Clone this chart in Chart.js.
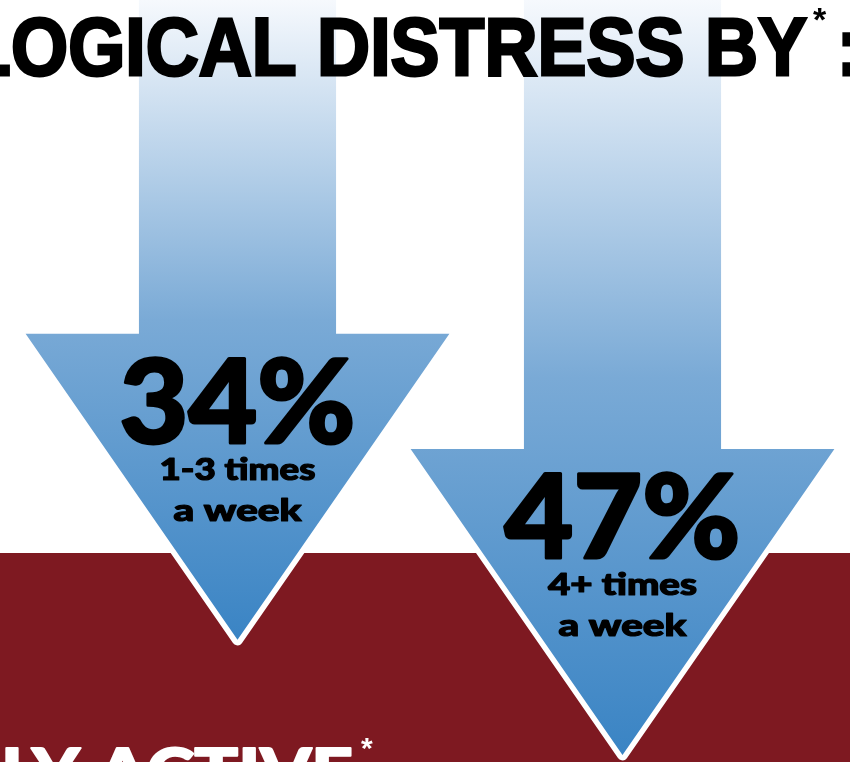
<!DOCTYPE html>
<html>
<head>
<meta charset="utf-8">
<script src="https://cdn.jsdelivr.net/npm/chart.js@4.4.0/dist/chart.umd.min.js"></script>
<style>
  html, body { margin: 0; padding: 0; background: #fff; overflow: hidden; }
  #wrap { width: 850px; height: 762px; position: relative; }
</style>
</head>
<body>
<div id="wrap"><canvas id="myChart"></canvas></div>
<script>
// data
const categories = ["1-3 times a week", "4+ times a week"];
const labelLines = [["1-3 times", "a week"], ["4+ times", "a week"]];
const values = [34, 47];
const valueLabels = ["34%", "47%"];
const titleText = "LOGICAL DISTRESS BY";
const footerText = "LLY ACTIVE";

const RED = "#7e1921";
const BAND_TOP = 553;

// draw text squeezed/stretched to a target width, with optional stroke to make it heavier
function fitText(ctx, txt, x, y, width, font, align, heavy) {
    ctx.font = font;
    const w = ctx.measureText(txt).width;
    const sx = width / w;
    ctx.save();
    ctx.translate(x, y);
    ctx.scale(sx, 1);
    ctx.textAlign = align || "center";
    ctx.fillText(txt, 0, 0);
    if (heavy) {
        ctx.strokeStyle = ctx.fillStyle;
        ctx.lineWidth = heavy;
        ctx.lineJoin = "round";
        ctx.strokeText(txt, 0, 0);
    }
    ctx.restore();
    return sx;
}

const arrowPlugin = {
    id: "arrows",
    beforeDraw(chart) {
        const ctx = chart.ctx;
        ctx.save();
        ctx.fillStyle = "#ffffff";
        ctx.fillRect(0, 0, chart.width, chart.height);
        ctx.fillStyle = RED;
        ctx.fillRect(0, BAND_TOP, chart.width, chart.height - BAND_TOP);
        ctx.restore();
    },
    afterDatasetsDraw(chart) {
        const ctx = chart.ctx;
        const top = chart.chartArea.top;
        chart.getDatasetMeta(0).data.forEach((bar, i) => {
            const tip = bar.y;
            const half = bar.width / 2;
            const headHalf = half * 2.15;
            const headTop = tip - 306;
            const cx = bar.x;

            const g = ctx.createLinearGradient(0, top, 0, tip);
            g.addColorStop(0, "#f6f9fd");
            g.addColorStop(0.5, "#7aaad6");
            g.addColorStop(1, "#3a84c4");

            ctx.save();
            // white outline on the head's slanted edges
            ctx.beginPath();
            ctx.moveTo(cx - headHalf, headTop);
            ctx.lineTo(cx, tip);
            ctx.lineTo(cx + headHalf, headTop);
            ctx.strokeStyle = "#ffffff";
            ctx.lineWidth = 11;
            ctx.lineJoin = "round";
            ctx.lineCap = "butt";
            ctx.stroke();

            ctx.beginPath();
            ctx.moveTo(cx - half, top);
            ctx.lineTo(cx + half, top);
            ctx.lineTo(cx + half, headTop);
            ctx.lineTo(cx + headHalf, headTop);
            ctx.lineTo(cx, tip);
            ctx.lineTo(cx - headHalf, headTop);
            ctx.lineTo(cx - half, headTop);
            ctx.closePath();
            ctx.fillStyle = g;
            ctx.fill();

            // labels inside the head
            ctx.fillStyle = "#000000";
            ctx.textBaseline = "alphabetic";
            fitText(ctx, valueLabels[i], cx, headTop + 109, 236, "900 116px Lato", "center", 3);
            fitText(ctx, labelLines[i][0], cx, headTop + 146, i == 0 ? 156 : 149, "900 30px Lato", "center", 1.2);
            fitText(ctx, labelLines[i][1], cx, headTop + 187, 128, "900 30px Lato", "center", 1.2);
            ctx.restore();
        });
    },
    afterDraw(chart) {
        const ctx = chart.ctx;
        ctx.save();
        ctx.fillStyle = "#000000";
        ctx.textBaseline = "alphabetic";
        // title, its first letter runs off the left edge
        const tf = "bold 82px 'Liberation Sans Narrow', 'Liberation Sans', Arial, sans-serif";
        ctx.font = tf;
        const rest = titleText.slice(1);
        const sx = 796 / ctx.measureText(rest).width;
        ctx.save();
        ctx.translate(807, 75);
        ctx.scale(sx, 1);
        ctx.textAlign = "right";
        ctx.fillText(titleText, 0, 0);
        ctx.strokeStyle = "#000000";
        ctx.lineWidth = 3;
        ctx.lineJoin = "miter";
        ctx.strokeText(titleText, 0, 0);
        ctx.restore();
        ctx.font = "bold 34px 'Liberation Sans', sans-serif";
        ctx.textAlign = "left";
        ctx.fillText("*", 813, 31);
        ctx.font = tf;
        ctx.fillText(":", 836, 75);
        ctx.lineWidth = 3;
        ctx.strokeText(":", 836, 75);

        // footer line, cut off by the bottom edge
        ctx.fillStyle = "#ffffff";
        fitText(ctx, footerText, 353, 795, 390, "900 64px Lato", "right", 2);
        ctx.font = "bold 30px 'Liberation Sans', sans-serif";
        ctx.textAlign = "left";
        ctx.fillText("*", 361, 758);
        ctx.restore();
    }
};

new Chart("myChart", {
    type: "bar",
    data: {
        labels: categories,
        datasets: [{
            data: values,
            backgroundColor: "rgba(0,0,0,0)",
            borderWidth: 0,
            barPercentage: 0.512,
            categoryPercentage: 1
        }]
    },
    options: {
        responsive: true,
        maintainAspectRatio: false,
        animation: false,
        events: [],
        layout: { padding: { left: 45, right: 35, top: 0, bottom: 0 } },
        plugins: {
            legend: { display: false },
            tooltip: { enabled: false },
            title: { display: false }
        },
        scales: {
            x: { display: false },
            y: { display: false, reverse: true, min: -38.3, max: 47.8 }
        }
    },
    plugins: [arrowPlugin]
});
</script>
</body>
</html>
